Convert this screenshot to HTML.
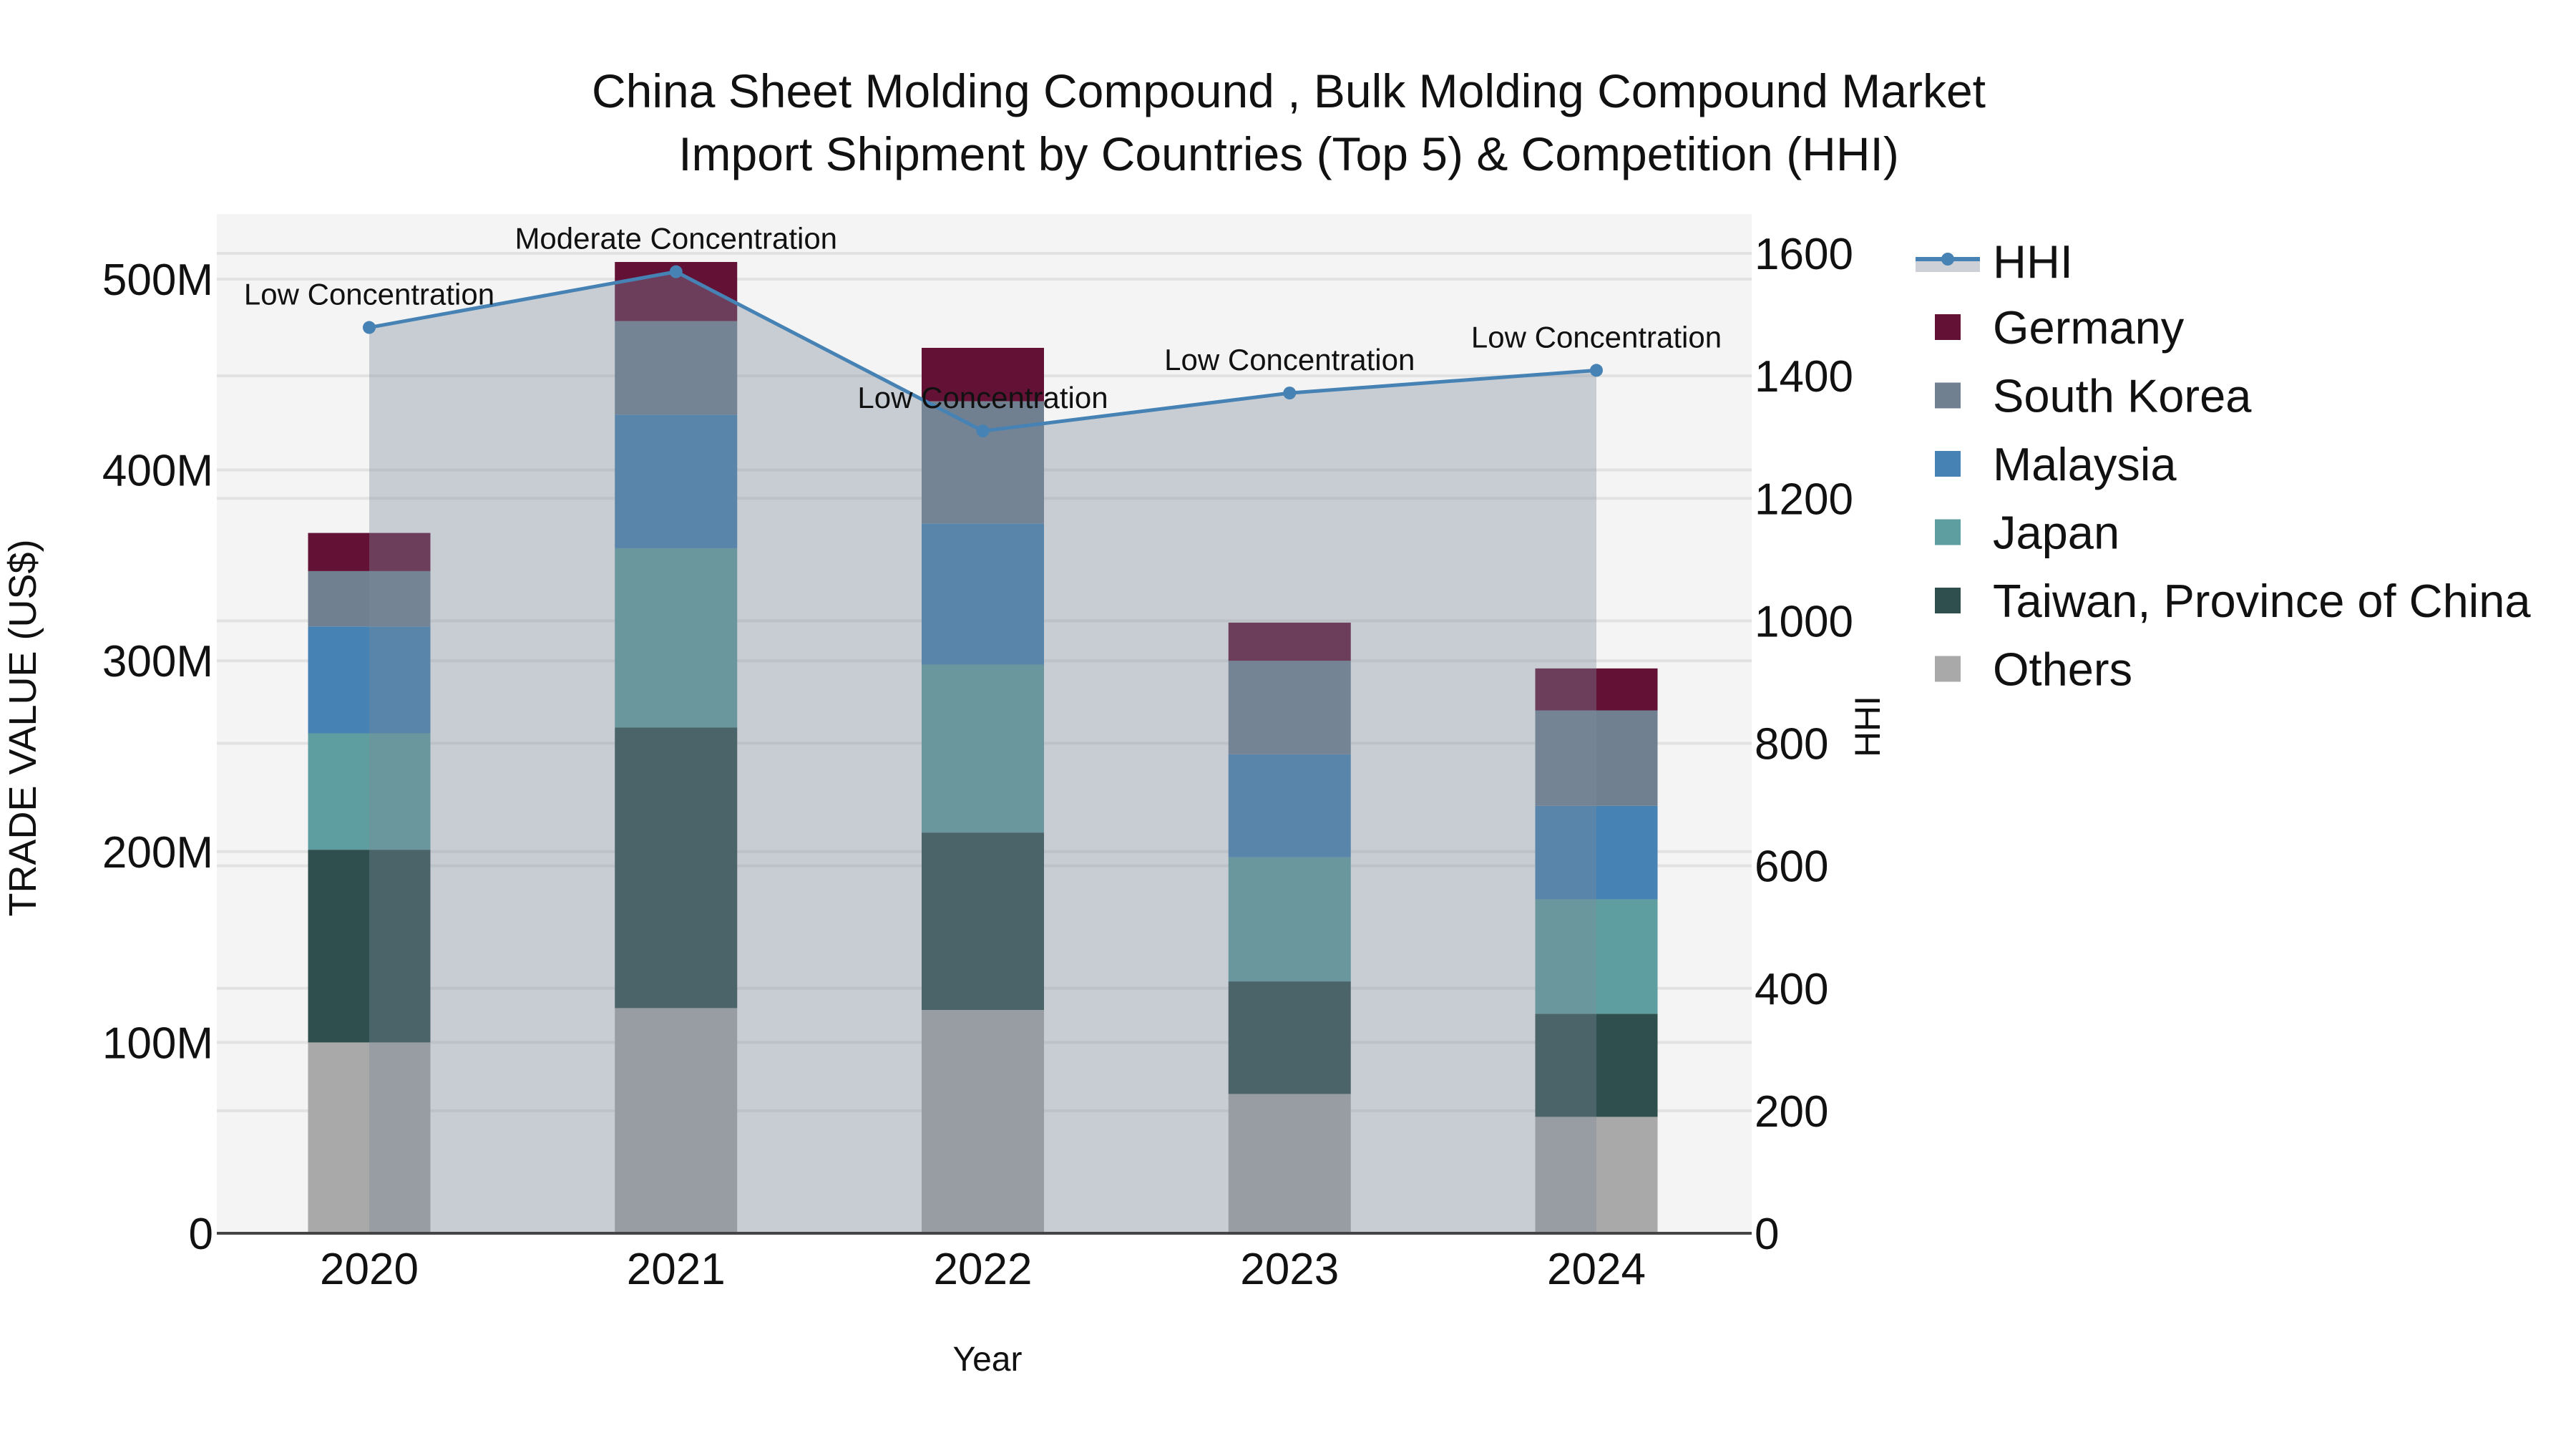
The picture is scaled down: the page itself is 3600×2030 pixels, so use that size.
<!DOCTYPE html>
<html><head><meta charset="utf-8"><style>
html,body{margin:0;padding:0;background:#fff;}
svg text{font-family:"Liberation Sans",sans-serif;}
</style></head><body>
<svg id="chart" width="3600" height="2025" viewBox="0 0 3600 2025" xmlns="http://www.w3.org/2000/svg">
<rect x="0" y="0" width="3600" height="2025" fill="#fff"/>
<text x="1801" y="150" font-size="66" text-anchor="middle" fill="#111">China Sheet Molding Compound , Bulk Molding Compound Market</text>
<text x="1801" y="238" font-size="66" text-anchor="middle" fill="#111">Import Shipment by Countries (Top 5) &amp; Competition (HHI)</text>
<g id="plot"></g>
<g id="legend"></g>
</svg>
<script>
const years = ['2020','2021','2022','2023','2024'];
const others = [100, 118, 117, 73, 61];
const taiwan = [101, 147, 93, 59, 54];
const japan = [61, 94, 88, 65, 60];
const malaysia = [56, 70, 74, 54, 49];
const southKorea = [29, 49, 64, 49, 50];
const germany = [20, 31, 28, 20, 22];
const hhi = [1479, 1570, 1310, 1372, 1409];
const hhiLabels = ['Low Concentration','Moderate Concentration','Low Concentration','Low Concentration','Low Concentration'];
const leftTicks = [0,100,200,300,400,500];
const leftTickLabels = ['0','100M','200M','300M','400M','500M'];
const rightTicks = [0,200,400,600,800,1000,1200,1400,1600];

const NS='http://www.w3.org/2000/svg';
const X0=303, X1=2448, Y0=299, YB=1723;
const yL = v => YB - v*2.666;
const yR = v => YB - v*(1369/1600);
const xC = i => 516 + i*428.75;
const BW = 171;
const plot=document.getElementById('plot');
function mk(tag,attrs,parent){const e=document.createElementNS(NS,tag);for(const k in attrs)e.setAttribute(k,attrs[k]);(parent||plot).appendChild(e);return e;}

let r=mk('rect',{x:X0,y:Y0,width:X1-X0,height:YB-Y0,fill:'#f4f4f4'});


leftTicks.forEach((t,i)=>{
  if(t>0){let g=mk('line',{x1:X0,x2:X1,y1:yL(t),y2:yL(t),stroke:'#e2e2e2','stroke-width':4});
  
  }
  let tx=mk('text',{x:298,y:yL(t)+22,'font-size':62,'text-anchor':'end',fill:'#111'});
  tx.textContent=leftTickLabels[i];
  
  
});
rightTicks.forEach(t=>{
  if(t>0){let g=mk('line',{x1:X0,x2:X1,y1:yR(t),y2:yR(t),stroke:'#e2e2e2','stroke-width':4});
  
  }
  let tx=mk('text',{x:2452,y:yR(t)+22,'font-size':62,fill:'#111'});
  tx.textContent=String(t);
  
  
});
const series=[['others',others,'#a9a9a9'],['taiwan',taiwan,'#2f4f4f'],['japan',japan,'#5f9ea0'],['malaysia',malaysia,'#4682b4'],['south-korea',southKorea,'#708090'],['germany',germany,'#631236']];
years.forEach((y,i)=>{
  let base=0;
  series.forEach(s=>{
    const v=s[1][i];
    let b=mk('rect',{x:xC(i)-BW/2,y:yL(base+v),width:BW,height:yL(base)-yL(base+v),fill:s[2]});
    
    
    base+=v;
  });
});
let pts=hhi.map((h,i)=>xC(i)+','+yR(h)).join(' ');
let area=mk('polygon',{points:xC(0)+','+YB+' '+pts+' '+xC(4)+','+YB,fill:'rgb(126,137,155)','fill-opacity':0.37});


let ax=mk('line',{x1:X0,x2:X1,y1:YB,y2:YB,stroke:'#444','stroke-width':4});


let line=mk('polyline',{points:pts,fill:'none',stroke:'#4682b4','stroke-width':5});


hhi.forEach((h,i)=>{
  let c=mk('circle',{cx:xC(i),cy:yR(h),r:9,fill:'#4682b4'});
  
  
  let t=mk('text',{x:xC(i),y:yR(h)-32,'font-size':42,'text-anchor':'middle',fill:'#111'});
  t.textContent=hhiLabels[i];
  
  
  let xt=mk('text',{x:xC(i),y:1794,'font-size':62,'text-anchor':'middle',fill:'#111'});
  xt.textContent=years[i];
  
  
});
let yt=mk('text',{x:1380,y:1915,'font-size':48,'text-anchor':'middle',fill:'#111'});
yt.textContent='Year';


let lt=mk('text',{x:0,y:0,'font-size':54,'text-anchor':'middle',fill:'#111',transform:'translate(50,1017) rotate(-90)'});
lt.textContent='TRADE VALUE (US$)';


let rt=mk('text',{x:0,y:0,'font-size':50,'text-anchor':'middle',fill:'#111',transform:'translate(2627,1015) rotate(-90)'});
rt.textContent='HHI';



const leg=document.getElementById('legend');
let lf=mk('rect',{x:2677,y:362,width:90,height:18,fill:'#cdd1d7'},leg);


let ll=mk('line',{x1:2677,x2:2767,y1:362,y2:362,stroke:'#4682b4','stroke-width':6},leg);


let lc=mk('circle',{cx:2722,cy:362,r:9,fill:'#4682b4'},leg);


let lht=mk('text',{x:2785,y:388,'font-size':65,fill:'#111'},leg);
lht.textContent='HHI';


const legItems=[['Germany','#631236'],['South Korea','#708090'],['Malaysia','#4682b4'],['Japan','#5f9ea0'],['Taiwan, Province of China','#2f4f4f'],['Others','#a9a9a9']];
legItems.forEach((it,k)=>{
  const cy=457+k*95.5;
  let sq=mk('rect',{x:2704,y:cy-18,width:36,height:36,fill:it[1]},leg);
  
  
  let tx=mk('text',{x:2785,y:cy+23,'font-size':65,fill:'#111'},leg);
  tx.textContent=it[0];
  
  
});
</script>
</body></html>
